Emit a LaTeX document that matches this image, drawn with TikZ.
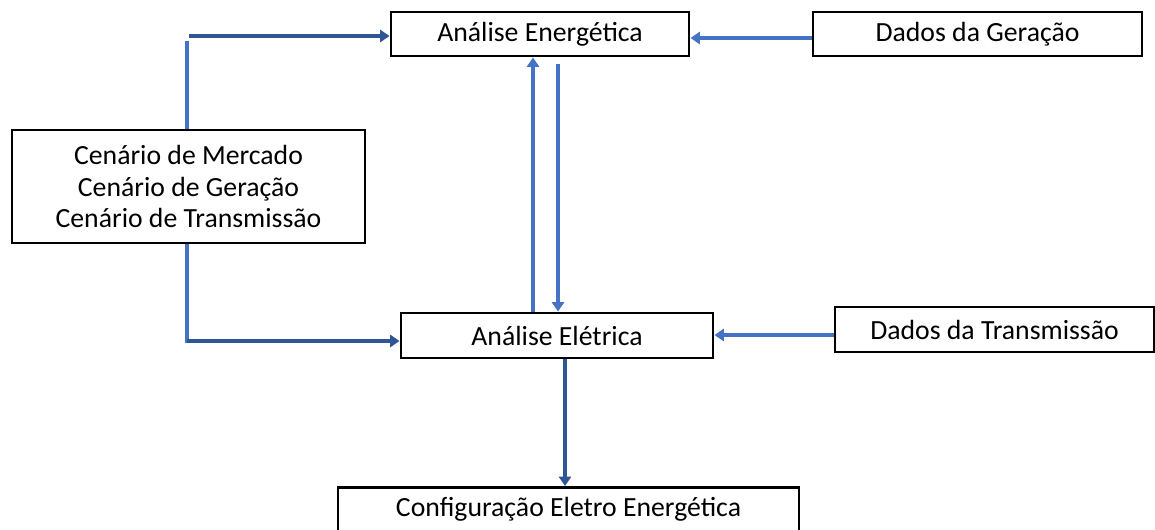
\documentclass[tikz,border=0pt]{standalone}
\usepackage{fontspec}
\setmainfont{Carlito}
\usetikzlibrary{arrows.meta}
\begin{document}
\begin{tikzpicture}[x=0.75pt,y=-0.75pt,
  box/.style={draw=black,line width=2.2pt,inner sep=0pt,font=\fontsize{20.8}{23.6}\selectfont,align=center},
  lblue/.style={draw=blue1,line width=3.6pt},
  dblue/.style={draw=blue2,line width=3.6pt},
  tip/.style={-{Triangle[length=7pt,width=9pt]}}]
\definecolor{blue1}{HTML}{4472C4}
\definecolor{blue2}{HTML}{2F5597}
\useasboundingbox (0,0) rectangle (1155,529);
\node[box,minimum width=298*0.75pt,minimum height=44*0.75pt] (ae) at (540,34) {Análise Energética};
\node[box,minimum width=329*0.75pt,minimum height=44*0.75pt] (dg) at (977.5,34) {Dados da Geração};
\node[box,minimum width=353*0.75pt,minimum height=113*0.75pt] (cen) at (188.5,186.5) {Cenário de Mercado\\Cenário de Geração\\Cenário de Transmissão};
\node[box,minimum width=312*0.75pt,minimum height=45*0.75pt] (ael) at (557,335.5) {Análise Elétrica};
\node[box,minimum width=319*0.75pt,minimum height=45*0.75pt] (dt) at (994.5,329.5) {Dados da Transmissão};
\node[box,minimum width=461*0.75pt,minimum height=44*0.75pt,anchor=north] (cfg) at (568.5,486) {Configuração Eletro Energética};
\coordinate (c1) at (187,41);
\coordinate (c2) at (187,341);
% top-left connector
\draw[lblue] (cen.north -| c1) -- (c1);
\draw[dblue,tip] (189,36) -- (ae.west |- 0,36);
% bottom-left connector
\draw[lblue] (cen.south -| c2) -- (187,343);
\draw[dblue,tip] (187,341) -- (ael.west |- 0,341);
% vertical pair
\draw[lblue,tip] (ael.north -| 533,0) -- (ae.south -| 533,0);
\draw[lblue,tip] (ae.south -| 558,0) ++(0,7) -- (ael.north -| 558,0);
% right inputs
\draw[lblue,tip] (dg.west |- 0,38) -- (ae.east |- 0,38);
\draw[lblue,tip] (dt.west |- 0,335) -- (ael.east |- 0,335);
% down
\draw[dblue,tip] (ael.south -| 565,0) -- (cfg.north -| 565,0);
\end{tikzpicture}
\end{document}
